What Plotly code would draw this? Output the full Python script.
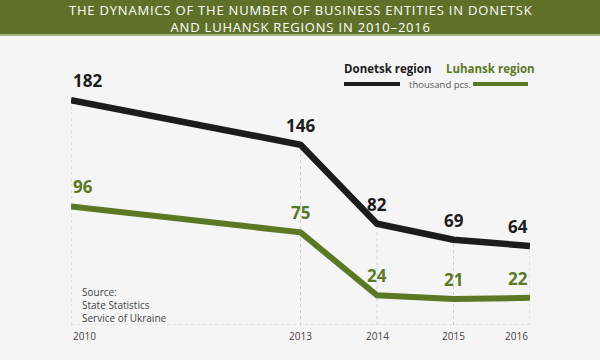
import plotly.graph_objects as go

years = [2010, 2013, 2014, 2015, 2016]
donetsk = [182, 146, 82, 69, 64]
luhansk = [96, 75, 24, 21, 22]
year_labels = ["2010", "2013", "2014", "2015", "2016"]

BLACK = "#1c1c1c"
GREEN = "#5b7824"
HEADER = "#5f7129"
BG = "#f5f5f5"
FONT = "Open Sans"

W, H = 600, 360
L, R, T, B = 71, 70, 40, 35
pw, ph = W - L - R, H - T - B

def px_x(p):
    return (p - L) / pw

def px_y(p):
    return 1 - (p - T) / ph

fig = go.Figure()

# drop lines and baseline
dx, dy = [], []
for x, v in zip(years, donetsk):
    dx += [x, x, None]
    dy += [0, v, None]
fig.add_trace(go.Scatter(x=dx, y=dy, mode="lines",
                         line=dict(color="#cfcfcf", width=1, dash="dot"),
                         hoverinfo="skip", showlegend=False))
fig.add_trace(go.Scatter(x=[years[0], years[-1]], y=[0, 0], mode="lines",
                         line=dict(color="#cfcfcf", width=1, dash="dot"),
                         hoverinfo="skip", showlegend=False))

fig.add_trace(go.Scatter(x=years, y=luhansk, mode="lines",
                         line=dict(color=GREEN, width=6),
                         hoverinfo="skip", showlegend=False))
fig.add_trace(go.Scatter(x=years, y=donetsk, mode="lines",
                         line=dict(color=BLACK, width=6.5),
                         hoverinfo="skip", showlegend=False))

ann = []
n = len(years)
for series, col in ((donetsk, BLACK), (luhansk, GREEN)):
    for i, (x, v) in enumerate(zip(years, series)):
        anchor = "left" if i == 0 else ("right" if i == n - 1 else "center")
        ann.append(dict(x=x, y=v, xref="x", yref="y", text=str(v),
                        showarrow=False, xanchor=anchor, yanchor="bottom",
                        yshift=6, font=dict(family=FONT, size=17, color=col,
                                            weight="bold")))

for i, (x, t) in enumerate(zip(years, year_labels)):
    anchor = "left" if i == 0 else ("right" if i == n - 1 else "center")
    ann.append(dict(x=x, y=0, xref="x", yref="y", text=t, showarrow=False,
                    xanchor=anchor, yanchor="top", yshift=-2,
                    font=dict(family=FONT, size=10, color="#444444")))

# title
ls = '<span style="letter-spacing:0.8px">'
ann.append(dict(x=0.5, y=px_y(19), xref="paper", yref="paper",
                text=ls + "THE DYNAMICS OF THE NUMBER OF BUSINESS ENTITIES IN DONETSK</span><br>"
                     + ls + "AND LUHANSK REGIONS IN 2010–2016</span>",
                showarrow=False, xanchor="center", yanchor="middle",
                font=dict(family=FONT, size=13, color="white", weight=500)))

# legend
ann.append(dict(x=px_x(342), y=px_y(68), xref="paper", yref="paper",
                text="Donetsk region", showarrow=False, xanchor="left",
                yanchor="middle", font=dict(family=FONT, size=11.5,
                                            color=BLACK, weight="bold")))
ann.append(dict(x=px_x(444), y=px_y(68), xref="paper", yref="paper",
                text="Luhansk region", showarrow=False, xanchor="left",
                yanchor="middle", font=dict(family=FONT, size=11.5,
                                            color=GREEN, weight="bold")))
ann.append(dict(x=px_x(407), y=px_y(84), xref="paper", yref="paper",
                text="thousand pcs.", showarrow=False, xanchor="left",
                yanchor="middle", font=dict(family=FONT, size=9.5,
                                            color="#555555")))

# source
ann.append(dict(x=px_x(80), y=px_y(327), xref="paper", yref="paper",
                text="Source:<br>State Statistics<br>Service of Ukraine",
                showarrow=False, xanchor="left", yanchor="bottom", align="left",
                font=dict(family=FONT, size=10, color="#444444")))

shapes = [
    dict(type="rect", xref="paper", yref="paper", x0=px_x(0), x1=px_x(W),
         y0=px_y(34.5), y1=px_y(0), fillcolor=HEADER, line=dict(width=0),
         layer="below"),
    dict(type="rect", xref="paper", yref="paper", x0=px_x(0), x1=px_x(W),
         y0=px_y(36), y1=px_y(34.5), fillcolor="#a9b37a", line=dict(width=0),
         layer="below"),
    dict(type="line", xref="paper", yref="paper", x0=px_x(344), x1=px_x(400),
         y0=px_y(84), y1=px_y(84), line=dict(color=BLACK, width=4)),
    dict(type="line", xref="paper", yref="paper", x0=px_x(473), x1=px_x(528),
         y0=px_y(84), y1=px_y(84), line=dict(color=GREEN, width=4)),
]

fig.update_layout(
    width=W, height=H,
    margin=dict(l=L, r=R, t=T, b=B, pad=0),
    paper_bgcolor=BG, plot_bgcolor=BG,
    xaxis=dict(range=[years[0], years[-1]], visible=False, fixedrange=True),
    yaxis=dict(range=[0, ph / 1.235], visible=False, fixedrange=True),
    annotations=ann, shapes=shapes, hovermode=False, showlegend=False,
)

fig.write_html("out.html", config=dict(displayModeBar=False),
               post_script="document.body.style.margin='0';document.body.style.overflow='hidden';")
